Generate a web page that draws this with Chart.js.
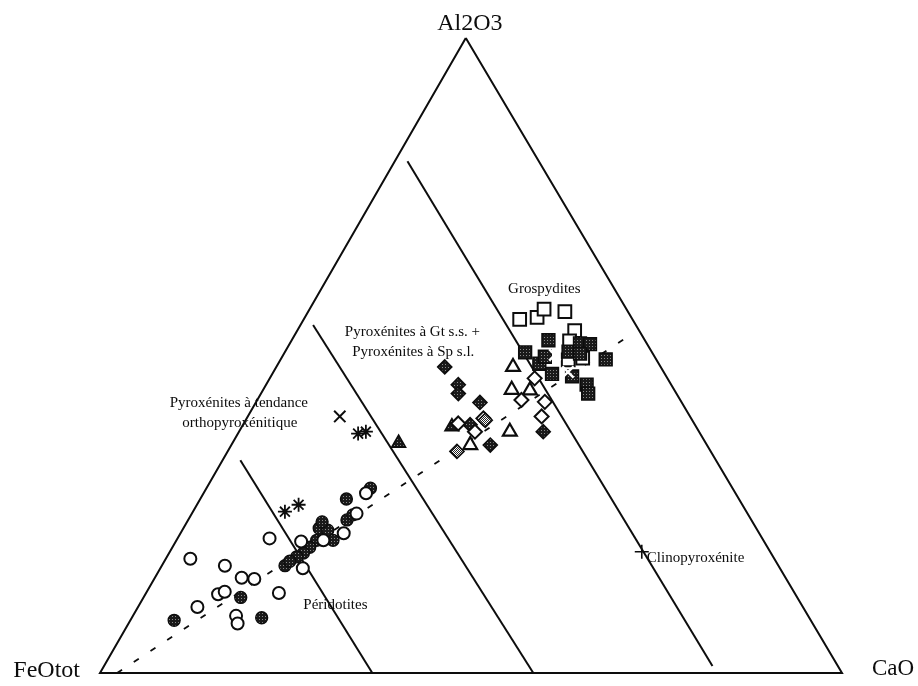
<!DOCTYPE html>
<html><head><meta charset="utf-8">
<script src="https://cdn.jsdelivr.net/npm/chart.js@4"></script>
<style>html,body{margin:0;padding:0;background:#fff}#wrap{width:918px;height:686px;position:relative}</style>
</head><body><div id="wrap"><canvas id="c"></canvas></div>
<script>
// Compositions as [Al2O3, FeOtot, CaO] (%)
const vertexLabels = ['Al2O3', 'FeOtot', 'CaO'];
const openCircles = [[21.2,66.4,12.4],[18.0,78.7,3.3],[16.9,74.6,8.5],[15.0,73.3,11.7],[14.8,71.7,13.5],[12.4,77.8,9.8],[12.8,76.7,10.5],[12.6,69.5,17.9],[10.4,81.6,8.0],[9.0,77.1,13.9],[7.8,77.5,14.7],[20.7,62.4,16.9],[16.5,64.3,19.2],[22.0,56.0,22.0],[20.9,59.3,19.8],[28.3,49.8,21.9],[25.1,52.7,22.2]];
const filledCircles = [[27.4,52.9,19.7],[16.9,66.5,16.6],[11.9,75.0,13.1],[8.7,73.8,17.5],[8.3,85.8,5.9],[22.8,58.9,18.3],[22.5,57.9,19.6],[20.9,60.2,18.9],[19.8,61.7,18.5],[18.9,63.0,18.1],[18.3,64.2,17.5],[20.9,58.0,21.1],[24.1,54.5,21.4],[24.9,53.3,21.8],[29.1,48.8,22.1],[23.8,58.0,18.2],[17.6,65.5,16.9]];
const asterisks = [[25.4,62.2,12.4],[26.5,59.8,13.7],[37.7,46.1,16.2],[38.0,44.9,17.1]];
const crosses = [[40.4,47.2,12.4]];
const filledTriangles = [[36.2,41.4,22.4],[38.8,32.9,28.3]];
const openTriangles = [[35.9,31.9,32.2],[38.0,25.5,36.5],[48.2,19.9,31.9],[44.6,21.9,33.5],[44.5,19.5,36.0]];
const filledDiamonds = [[48.2,29.1,22.7],[45.4,28.7,25.9],[44.0,29.4,26.6],[42.6,27.2,30.2],[35.9,29.2,34.9],[39.1,30.3,30.6],[38.0,21.0,41.0]];
const openDiamonds = [[39.3,31.8,28.9],[40.1,28.0,31.9],[38.0,30.2,31.8],[46.4,17.9,35.7],[43.0,21.4,35.6],[42.7,18.4,38.9],[40.4,20.0,39.6]];
const hatchedDiamonds = [[34.9,34.2,30.9],[39.8,27.9,32.3]];
const openSquares = [[55.7,15.2,29.1],[56.0,12.7,31.3],[57.3,11.1,31.6],[56.9,8.5,34.6],[53.9,8.7,37.4],[52.3,10.2,37.5],[49.6,9.8,40.6],[49.3,11.9,38.8]];
const filledSquares = [[52.4,13.0,34.6],[50.5,17.1,32.4],[48.7,16.1,35.2],[47.1,15.2,37.7],[50.6,11.2,38.2],[51.9,9.0,39.1],[51.8,7.7,40.5],[46.7,12.7,40.6],[45.4,11.4,43.2],[44.0,11.9,44.1],[49.4,6.8,43.8],[50.3,9.8,39.9],[49.8,14.8,35.4]];
const whiteCrosses = [[50.1,13.3,36.6],[47.4,12.9,39.7]];
const clinopyroxenite = [[19.1,17.3,63.6]];
// field boundaries and trend
const boundary1 = [[33.5,64.1,2.4],[0,63.3,36.7]];
const boundary2 = [[54.8,43.5,1.7],[0,41.6,58.4]];
const boundary3 = [[80.6,17.7,1.7],[1.1,16.9,82.0]];
const trendLine = [[0,97.7,2.3],[53.2,1.6,45.2]];
const outline = [[100,0,0],[0,100,0],[0,0,100],[100,0,0]];
const fieldLabels = ['Grospydites','Pyroxénites à Gt s.s. +','Pyroxénites à Sp s.l.','Pyroxénites à tendance','orthopyroxénitique','Péridotites','Clinopyroxénite'];

const APEX_X = 0.493; // horizontal position of Al2O3 apex
function toXY(p){const s=p[0]+p[1]+p[2];const a=p[0]/s,c=p[2]/s;return {x:c+a*APEX_X,y:a};}
const conv = arr => arr.map(toXY);

function makePattern(size, cells, bg, fg){
  const c=document.createElement('canvas');c.width=c.height=size;const g=c.getContext('2d');
  g.fillStyle=bg;g.fillRect(0,0,size,size);g.fillStyle=fg;cells.forEach(([x,y])=>g.fillRect(x,y,1,1));
  return g.createPattern(c,'repeat');
}
const stipple = makePattern(3,[[1,1]],'#1a1a1a','#8a8a8a');
const checker = makePattern(2,[[0,0],[1,1]],'#ffffff','#222222');
const INK='#0d0d0d';

function markers(data, style, radius, bg, border, bw, order){
  return {data:conv(data), pointStyle:style, pointRadius:radius, pointHoverRadius:radius,
    backgroundColor:bg, borderColor:border, pointBorderWidth:bw, borderWidth:bw, showLine:false, clip:false, order:order||0};
}
function line(data, width, dash){
  return {data:conv(data), showLine:true, pointRadius:0, borderColor:INK, borderWidth:width,
    borderDash:dash||[], fill:false, clip:false, order:10, tension:0};
}

const datasets = [
  markers(clinopyroxenite,'cross',7,INK,INK,1.6),
  markers(whiteCrosses,'crossRot',8,'#fff','#fff',2.5),
  markers(filledSquares,'rect',9,stipple,INK,1.6),
  markers(openSquares,'rect',9,'#fff',INK,2),
  markers(hatchedDiamonds,'rectRot',7,checker,INK,1.6),
  markers(openDiamonds,'rectRot',7,'#fff',INK,2),
  markers(filledDiamonds,'rectRot',7,stipple,INK,1.6),
  markers(openTriangles,'triangle',8,'#fff',INK,2.2),
  markers(filledTriangles,'triangle',8,stipple,INK,1.6),
  markers(crosses,'crossRot',8,INK,INK,2),
  markers(asterisks,'star',7,INK,INK,1.8),
  markers(openCircles,'circle',6,'#fff',INK,2),
  markers(filledCircles,'circle',6,stipple,INK,1.3),
  line(outline,2),
  line(boundary1,2),
  line(boundary2,2),
  line(boundary3,2),
  line(trendLine,1.8,[6,14])
];

// label anchors in plot units (x: 0..1 along base, y: 0..1 height)
const labelAnchors = [[0.550,0.598],[0.330,0.531],[0.340,0.499],[0.094,0.419],[0.111,0.387],[0.274,0.101],[0.737,0.175]];

const textPlugin = {
  id:'texts',
  afterDatasetsDraw(chart){
    const {ctx, scales:{x,y}} = chart;
    ctx.save();
    ctx.fillStyle=INK;
    ctx.textBaseline='alphabetic';
    ctx.font='15px "Liberation Serif", "Times New Roman", serif';
    ctx.textAlign='left';
    fieldLabels.forEach((t,i)=>{ctx.fillText(t, x.getPixelForValue(labelAnchors[i][0]), y.getPixelForValue(labelAnchors[i][1]));});
    ctx.font='24px "Liberation Serif", "Times New Roman", serif';
    const apex=toXY(outline[0]), left=toXY(outline[1]), right=toXY(outline[2]);
    ctx.textAlign='center';
    ctx.fillText(vertexLabels[0], x.getPixelForValue(apex.x)+4, y.getPixelForValue(apex.y)-8);
    ctx.textAlign='right';
    ctx.fillText(vertexLabels[1], x.getPixelForValue(left.x)-20, y.getPixelForValue(left.y)+4);
    ctx.textAlign='left';
    ctx.font='23px "Liberation Serif", "Times New Roman", serif';
    ctx.fillText(vertexLabels[2], x.getPixelForValue(right.x)+30, y.getPixelForValue(right.y)+2);
    ctx.restore();
  }
};

new Chart(document.getElementById('c'), {
  type:'scatter',
  data:{datasets},
  options:{
    responsive:true, maintainAspectRatio:false, animation:false,
    layout:{padding:{left:100,right:76,top:38,bottom:13}},
    plugins:{legend:{display:false}, tooltip:{enabled:false}},
    scales:{
      x:{type:'linear',min:0,max:1,display:false},
      y:{type:'linear',min:0,max:1,display:false}
    },
    elements:{line:{borderCapStyle:'butt'}}
  },
  plugins:[textPlugin]
});
</script>
</body></html>
